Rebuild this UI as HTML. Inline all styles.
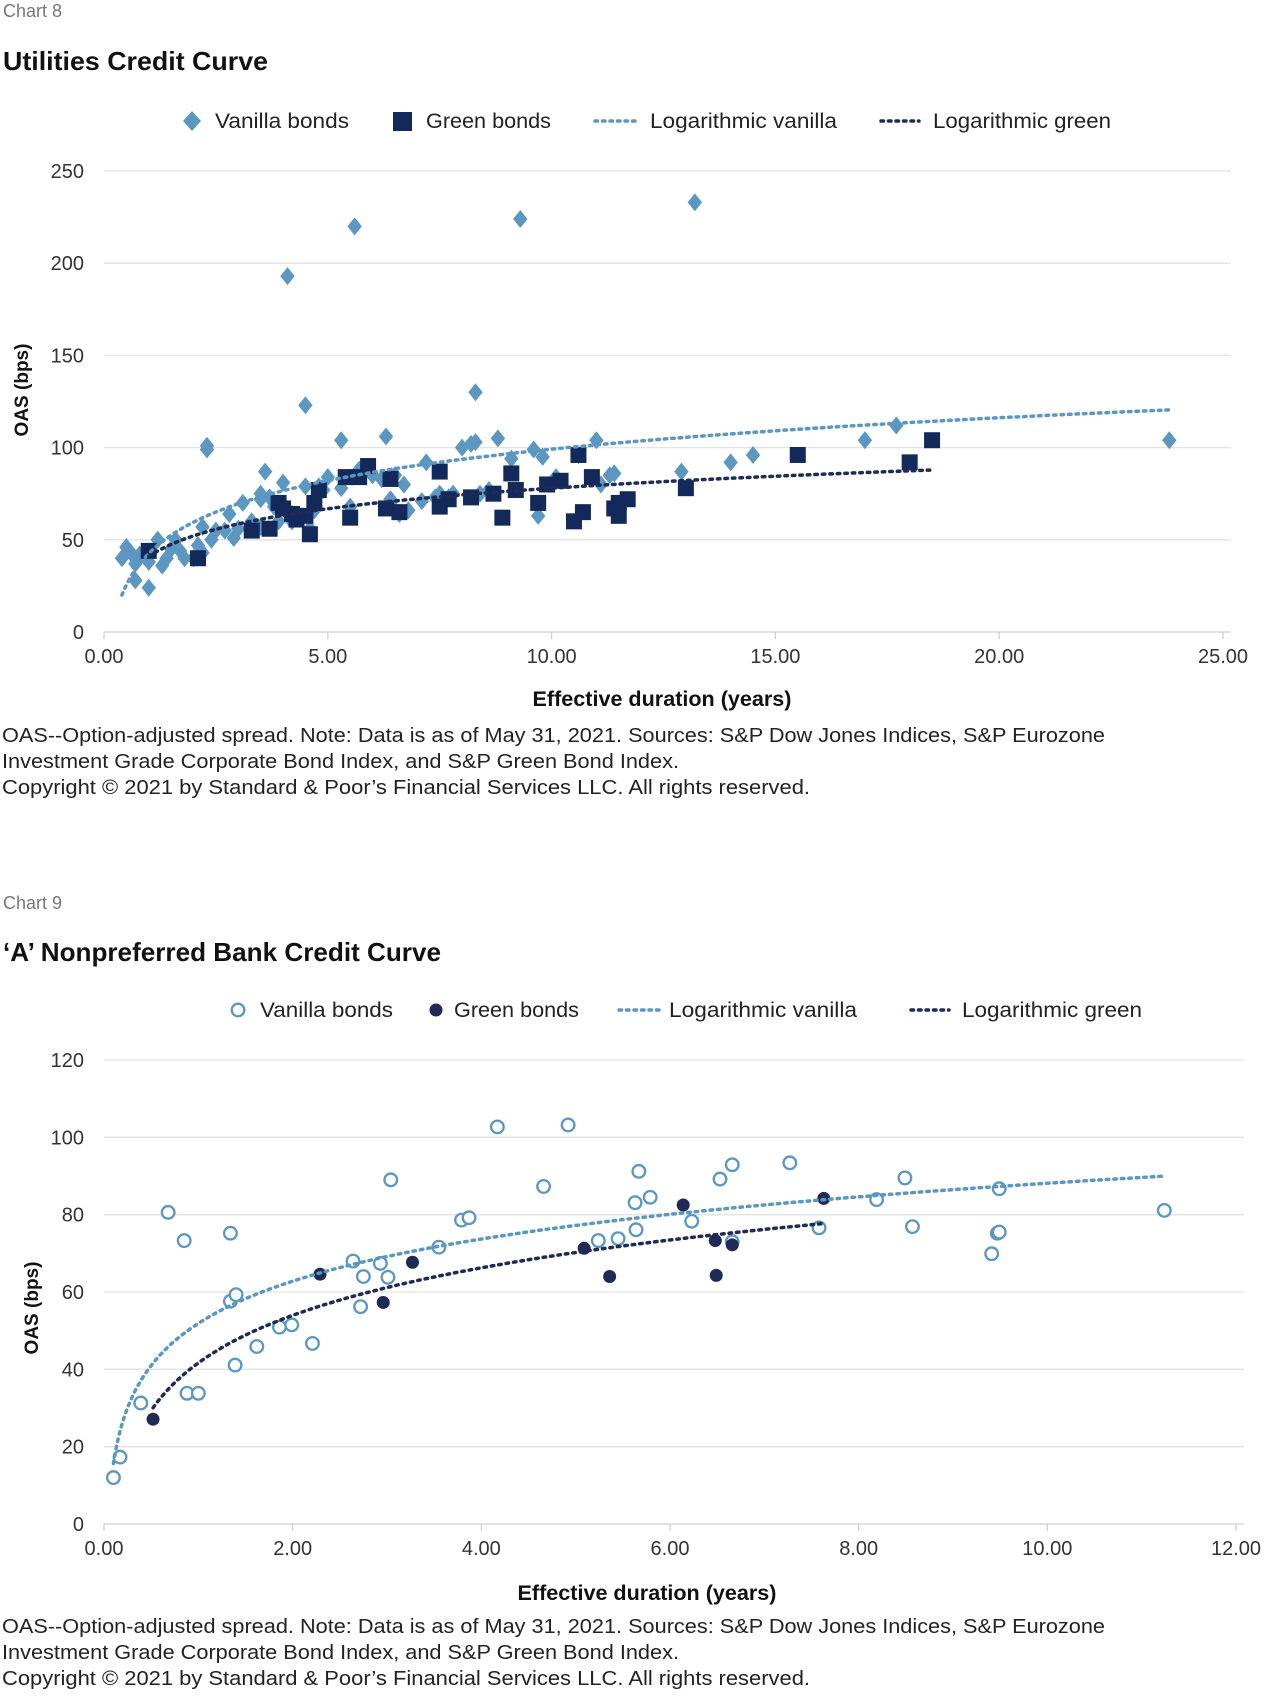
<!DOCTYPE html>
<html><head><meta charset="utf-8">
<style>
html,body{margin:0;padding:0;background:#fff;}
svg{display:block;font-family:"Liberation Sans",sans-serif;}
</style></head>
<body>
<svg id="root" width="1276" height="1698" viewBox="0 0 1276 1698" xmlns="http://www.w3.org/2000/svg">
  <text x="3" y="17" font-size="18" fill="#777">Chart 8</text>
  <text x="3" y="70" font-size="26" font-weight="bold" fill="#111" textLength="265" lengthAdjust="spacingAndGlyphs">Utilities Credit Curve</text>
  <g id="c1"></g>
  <text x="2" y="742" font-size="20" fill="#222" textLength="1103" lengthAdjust="spacingAndGlyphs">OAS--Option-adjusted spread. Note: Data is as of May 31, 2021. Sources: S&amp;P Dow Jones Indices, S&amp;P Eurozone</text>
  <text x="2" y="768" font-size="20" fill="#222" textLength="677" lengthAdjust="spacingAndGlyphs">Investment Grade Corporate Bond Index, and S&amp;P Green Bond Index.</text>
  <text x="2" y="794" font-size="20" fill="#222" textLength="808" lengthAdjust="spacingAndGlyphs">Copyright © 2021 by Standard &amp; Poor’s Financial Services LLC. All rights reserved.</text>

  <text x="3" y="909" font-size="18" fill="#777">Chart 9</text>
  <text x="3" y="961" font-size="26" font-weight="bold" fill="#111" textLength="438" lengthAdjust="spacingAndGlyphs">‘A’ Nonpreferred Bank Credit Curve</text>
  <g id="c2"></g>
  <text x="2" y="1633" font-size="20" fill="#222" textLength="1103" lengthAdjust="spacingAndGlyphs">OAS--Option-adjusted spread. Note: Data is as of May 31, 2021. Sources: S&amp;P Dow Jones Indices, S&amp;P Eurozone</text>
  <text x="2" y="1659" font-size="20" fill="#222" textLength="677" lengthAdjust="spacingAndGlyphs">Investment Grade Corporate Bond Index, and S&amp;P Green Bond Index.</text>
  <text x="2" y="1685" font-size="20" fill="#222" textLength="808" lengthAdjust="spacingAndGlyphs">Copyright © 2021 by Standard &amp; Poor’s Financial Services LLC. All rights reserved.</text>
</svg>
<script>
// ---- Chart 8 data ----
const c1VanillaX=[0.4,0.5,0.6,0.7,0.8,0.7,1.0,1.0,1.2,1.3,1.4,1.5,1.6,1.7,1.8,2.0,2.1,2.2,2.2,2.3,2.3,2.4,2.5,2.7,2.8,2.9,3.0,3.1,3.3,3.5,3.5,3.5,3.6,3.7,3.8,3.9,4.0,4.1,4.2,4.2,4.5,4.5,4.6,4.7,4.8,4.9,5.0,5.3,5.3,5.5,5.6,5.7,5.8,6.0,6.2,6.3,6.4,6.4,6.5,6.6,6.7,6.8,7.1,7.2,7.4,7.5,7.6,7.7,7.8,8.0,8.2,8.3,8.3,8.4,8.6,8.8,9.1,9.3,9.6,9.7,9.8,10.1,10.6,11.0,11.1,11.3,11.4,12.9,13.2,14.0,14.5,17.0,17.7,23.8];
const c1VanillaY=[40,46,43,37,42,28,38,24,50,36,40,45,50,44,40,40,47,57,43,101,99,50,55,55,64,51,56,70,60,75,72,57,87,73,68,60,81,193,64,60,123,79,56,66,79,77,84,104,78,68,220,88,86,85,83,106,72,70,85,64,80,66,71,92,73,75,70,73,75,100,102,103,130,75,77,105,94,224,99,63,95,84,96,104,80,85,86,87,233,92,96,104,112,104];
const c1GreenX=[1.0,2.1,3.3,3.7,3.9,4.0,4.2,4.3,4.5,4.6,4.7,4.8,5.4,5.5,5.7,5.9,6.3,6.4,6.6,7.5,7.5,7.7,8.2,8.7,8.9,9.1,9.2,9.7,9.9,10.2,10.5,10.6,10.7,10.9,11.4,11.5,11.5,11.7,13.0,15.5,18.0,18.5];
const c1GreenY=[44,40,55,56,70,67,64,61,63,53,70,77,84,62,84,90,67,83,65,87,68,72,73,75,62,86,77,70,80,82,60,96,65,84,67,70,63,72,78,96,92,104];
const c1YTicks=[0,50,100,150,200,250];
const c1XTicks=["0.00","5.00","10.00","15.00","20.00","25.00"];
// ---- Chart 9 data ----
const c2VanillaX=[0.10,0.17,0.39,0.68,0.85,0.88,1.0,1.34,1.34,1.40,1.39,1.62,1.86,1.99,2.21,2.64,2.75,2.72,2.93,3.01,3.04,3.55,3.79,3.87,4.17,4.66,4.92,5.24,5.45,5.63,5.64,5.67,5.79,6.23,6.53,6.66,6.66,7.27,7.58,8.19,8.49,8.57,9.41,9.47,9.49,9.49,11.24];
const c2VanillaY=[12,17.3,31.3,80.6,73.3,33.8,33.8,75.2,57.6,59.3,41.1,45.9,50.9,51.5,46.7,68,64,56.2,67.4,63.8,89,71.6,78.6,79.2,102.7,87.3,103.2,73.3,73.8,83.1,76.1,91.2,84.5,78.3,89.2,92.9,73,93.4,76.6,83.9,89.5,76.9,69.9,75.2,75.5,86.7,81.1];
const c2GreenX=[0.52,2.29,2.96,3.27,5.09,5.36,6.14,6.48,6.49,6.66,7.63];
const c2GreenY=[27.1,64.6,57.3,67.7,71.3,64,82.5,73.3,64.3,72.2,84.2];
const c2YTicks=[0,20,40,60,80,100,120];
const c2XTicks=["0.00","2.00","4.00","6.00","8.00","10.00","12.00"];

const NS="http://www.w3.org/2000/svg";
function mk(parent,tag,attrs){const e=document.createElementNS(NS,tag);for(const k in attrs)e.setAttribute(k,attrs[k]);parent.appendChild(e);return e;}
function logFit(xs,ys){let n=xs.length,sx=0,sy=0,sxx=0,sxy=0;for(let i=0;i<n;i++){const l=Math.log(xs[i]);sx+=l;sy+=ys[i];sxx+=l*l;sxy+=l*ys[i];}const a=(n*sxy-sx*sy)/(n*sxx-sx*sx);return {a:a,b:(sy-a*sx)/n};}
const VC="#5b97c0", GC="#13295a", GC2="#1f2a55";
const DASH="2.5 5";

function drawChart(g,cfg){
  const X=v=>cfg.x0+(v-cfg.xmin)/(cfg.xmax-cfg.xmin)*(cfg.x1-cfg.x0);
  const Y=v=>cfg.y0-(v-cfg.ymin)/(cfg.ymax-cfg.ymin)*(cfg.y0-cfg.y1);
  cfg.yTicks.forEach(t=>{
    const l=mk(g,"line",{x1:cfg.x0,x2:cfg.x1+8,y1:Y(t),y2:Y(t),stroke:t===0?"#cfcfcf":"#e3e3e3","stroke-width":1.3});
    
    
    const tx=mk(g,"text",{x:cfg.x0-20,y:Y(t)+7,"font-size":20,fill:"#333","text-anchor":"end"});
    tx.textContent=t;
    
    
  });
  cfg.xTicks.forEach((t,i)=>{
    const v=cfg.xmin+i*(cfg.xmax-cfg.xmin)/(cfg.xTicks.length-1);
    const tk=mk(g,"line",{x1:X(v),x2:X(v),y1:cfg.y0,y2:cfg.y0+7,stroke:"#cfcfcf","stroke-width":1.3});
    
    
    const tx=mk(g,"text",{x:X(v),y:cfg.y0+31,"font-size":20,fill:"#333","text-anchor":"middle"});
    tx.textContent=t;
    
    
  });
  const yt=mk(g,"text",{x:0,y:0,"font-size":19,"font-weight":"bold",fill:"#111","text-anchor":"middle",transform:`translate(${cfg.ylx},${cfg.yly}) rotate(-90)`});
  yt.textContent="OAS (bps)";
  
  
  const xt=mk(g,"text",{x:cfg.xtx,y:cfg.xty,"font-size":21,"font-weight":"bold",fill:"#111","text-anchor":"middle",textLength:259,lengthAdjust:"spacingAndGlyphs"});
  xt.textContent="Effective duration (years)";
  
  
  cfg.vx.forEach((x,i)=>{
    let m;
    if(cfg.kind===1){const cx=X(x),cy=Y(cfg.vy[i]),s=9;m=mk(g,"polygon",{points:`${cx},${cy-s} ${cx+s*0.8},${cy} ${cx},${cy+s} ${cx-s*0.8},${cy}`,fill:VC});}
    else{m=mk(g,"circle",{cx:X(x),cy:Y(cfg.vy[i]),r:6.3,fill:"#fff",stroke:VC,"stroke-width":2.3});}
    
    
  });
  cfg.gx.forEach((x,i)=>{
    let m;
    if(cfg.kind===1){m=mk(g,"rect",{x:X(x)-8,y:Y(cfg.gy[i])-8,width:16,height:16,fill:GC});}
    else{m=mk(g,"circle",{cx:X(x),cy:Y(cfg.gy[i]),r:6.5,fill:GC2});}
    
    
  });
  function trend(xs,ys,col,name){
    const f=logFit(xs,ys);const lo=Math.min(...xs),hi=Math.max(...xs);let d="";
    for(let k=0;k<=200;k++){const x=lo*Math.pow(hi/lo,k/200);const y=f.a*Math.log(x)+f.b;d+=(k?"L":"M")+X(x).toFixed(1)+","+Y(Math.max(y,cfg.ymin)).toFixed(1);}
    const p=mk(g,"path",{d:d,fill:"none",stroke:col,"stroke-width":3.5,"stroke-dasharray":DASH,"stroke-linecap":"round"});
    
    
  }
  trend(cfg.vx,cfg.vy,VC,'vanilla-log-trendline');
  trend(cfg.gx,cfg.gy,"#1f2a55",'green-log-trendline');
  const L=cfg.leg,ly=cfg.legY;
  let m;
  if(cfg.kind===1){m=mk(g,"polygon",{points:`${L[0]},${ly-10} ${L[0]+9},${ly} ${L[0]},${ly+10} ${L[0]-9},${ly}`,fill:VC});}
  else{m=mk(g,"circle",{cx:L[0],cy:ly,r:6.3,fill:"#fff",stroke:VC,"stroke-width":2.3});}
  
  
  if(cfg.kind===1){m=mk(g,"rect",{x:L[2]-9,y:ly-9,width:19,height:19,fill:GC});}
  else{m=mk(g,"circle",{cx:L[2],cy:ly,r:6.5,fill:GC2});}
  
  
  m=mk(g,"line",{x1:L[4],x2:L[5],y1:ly,y2:ly,stroke:VC,"stroke-width":3.5,"stroke-dasharray":DASH,"stroke-linecap":"round"});
  
  
  m=mk(g,"line",{x1:L[7],x2:L[8],y1:ly,y2:ly,stroke:"#1f2a55","stroke-width":3.5,"stroke-dasharray":DASH,"stroke-linecap":"round"});
  
  
  const labels=[["Vanilla bonds",L[1],cfg.lw[0]],["Green bonds",L[3],cfg.lw[1]],["Logarithmic vanilla",L[6],cfg.lw[2]],["Logarithmic green",L[9],cfg.lw[3]]];
  labels.forEach(a=>{const t=mk(g,"text",{x:a[1],y:ly+7,"font-size":21,fill:"#222",textLength:a[2],lengthAdjust:"spacingAndGlyphs"});t.textContent=a[0];
    
    });
}

drawChart(document.getElementById("c1"),{kind:1,x0:104,x1:1223,y0:632,y1:171,xmin:0,xmax:25,ymin:0,ymax:250,
  yTicks:c1YTicks,xTicks:c1XTicks,vx:c1VanillaX,vy:c1VanillaY,gx:c1GreenX,gy:c1GreenY,
  ylx:28,yly:390,xtx:662,xty:706,legY:121,
  leg:[192,215,402,426,595,635,650,881,919,933],lw:[134,125,187,178]});
drawChart(document.getElementById("c2"),{kind:2,x0:104,x1:1236,y0:1524,y1:1060,xmin:0,xmax:12,ymin:0,ymax:120,
  yTicks:c2YTicks,xTicks:c2XTicks,vx:c2VanillaX,vy:c2VanillaY,gx:c2GreenX,gy:c2GreenY,
  ylx:38,yly:1308,xtx:647,xty:1600,legY:1010,
  leg:[238,260,436,454,619,663,669,911,949,962],lw:[133,125,188,180]});
</script>
</body></html>
